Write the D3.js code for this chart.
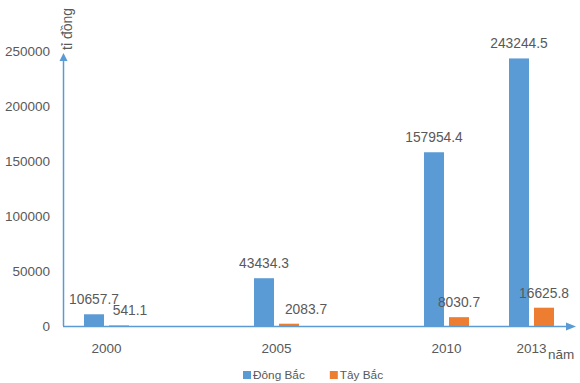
<!DOCTYPE html>
<html>
<head>
<meta charset="utf-8">
<script src="https://cdn.jsdelivr.net/npm/d3@7"></script>
<style>
  body { margin: 0; background: #fff; }
  svg text { font-family: "Liberation Sans", Arial, sans-serif; fill: #595959; }
</style>
</head>
<body>
<svg id="chart" width="580" height="383"></svg>
<script>
// category slots on the axis (Excel sheet had two blank rows)
const slots = ['2000', 'blank1', '2005', 'blank2', '2010', '2013'];
const years = ['2000', '2005', '2010', '2013'];
const seriesNames = ['Đông Bắc', 'Tây Bắc'];
const dongBac = [10657.7, 43434.3, 157954.4, 243244.5];
const tayBac = [541.1, 2083.7, 8030.7, 16625.8];
const yTicks = [0, 50000, 100000, 150000, 200000, 250000];
const colors = ['#5B9BD5', '#ED7D31'];

const svg = d3.select('#chart');
const axisColor = '#5B9BD5';

const x = d3.scaleBand().domain(slots).range([64, 574]);
const xInner = d3.scaleBand().domain(seriesNames).range([-22.5, 22.5]).paddingInner(0.2);
const y = d3.scaleLinear().domain([0, 250000]).range([326, 51]);

const mid = d => x(d) + x.bandwidth() / 2;

// y tick labels (no gridlines)
svg.append('g')
  .selectAll('text')
  .data(yTicks)
  .join('text')
    .attr('x', 50)
    .attr('y', d => y(d))
    .attr('dy', '0.36em')
    .attr('text-anchor', 'end')
    .style('font-size', '13.5px')
    .text(d => d);

// bars
const rows = years.map((yr, i) => ({ year: yr, values: [dongBac[i], tayBac[i]] }));
const groups = svg.append('g')
  .selectAll('g')
  .data(rows)
  .join('g')
    .attr('transform', d => `translate(${mid(d.year)},0)`);

groups.selectAll('rect')
  .data(d => d.values.map((v, j) => ({ name: seriesNames[j], value: v, j: j })))
  .join('rect')
    .attr('x', d => xInner(d.name))
    .attr('width', xInner.bandwidth())
    .attr('y', d => y(d.value))
    .attr('height', d => y(0) - y(d.value))
    .attr('fill', d => colors[d.j]);

// data labels, a couple pushed right like in the original
const nudge = { '2000': [0, 11], '2005': [0, 17] };
groups.each(function (row) {
  d3.select(this).selectAll('text')
    .data(row.values.map((v, j) => ({ name: seriesNames[j], value: v, j: j })))
    .join('text')
      .attr('x', d => xInner(d.name) + xInner.bandwidth() / 2 + (nudge[row.year] ? nudge[row.year][d.j] : 0))
      .attr('y', d => y(d.value) - 10)
      .attr('text-anchor', 'middle')
      .style('font-size', '13.8px')
      .text(d => d.value);
});

// axes with arrows
const ax = svg.append('g');
ax.append('line')
  .attr('x1', 63.5).attr('x2', 63.5)
  .attr('y1', y(0)).attr('y2', 58)
  .attr('stroke', axisColor).attr('stroke-width', 1.5);
ax.append('path')
  .attr('d', 'M63.5,53 L59.5,61 L67.5,61 Z')
  .attr('fill', axisColor);
ax.append('line')
  .attr('x1', 63).attr('x2', 570)
  .attr('y1', y(0) + 0.5).attr('y2', y(0) + 0.5)
  .attr('stroke', axisColor).attr('stroke-width', 1.5);
ax.append('path')
  .attr('d', `M576,${y(0) + 0.5} L566,${y(0) - 3.5} L566,${y(0) + 4.5} Z`)
  .attr('fill', axisColor);

// x labels
svg.append('g')
  .selectAll('text')
  .data(years)
  .join('text')
    .attr('x', d => mid(d))
    .attr('y', 353)
    .attr('text-anchor', 'middle')
    .style('font-size', '13.5px')
    .text(d => d);

// axis titles
svg.append('text')
  .attr('x', 548).attr('y', 359)
  .style('font-size', '13.5px')
  .text('năm');
svg.append('text')
  .attr('transform', 'translate(72,50) rotate(-90)')
  .style('font-size', '14px')
  .text('tỉ đồng');

// legend
const legend = svg.append('g').attr('transform', 'translate(243,371)');
let lx = 0;
seriesNames.forEach((name, i) => {
  legend.append('rect')
    .attr('x', lx).attr('y', 0)
    .attr('width', 8).attr('height', 8)
    .attr('fill', colors[i]);
  const t = legend.append('text')
    .attr('x', lx + 10).attr('y', 8)
    .style('font-size', '11.8px')
    .text(name);
  lx += 10 + t.node().getComputedTextLength() + 25;
});
</script>
</body>
</html>
